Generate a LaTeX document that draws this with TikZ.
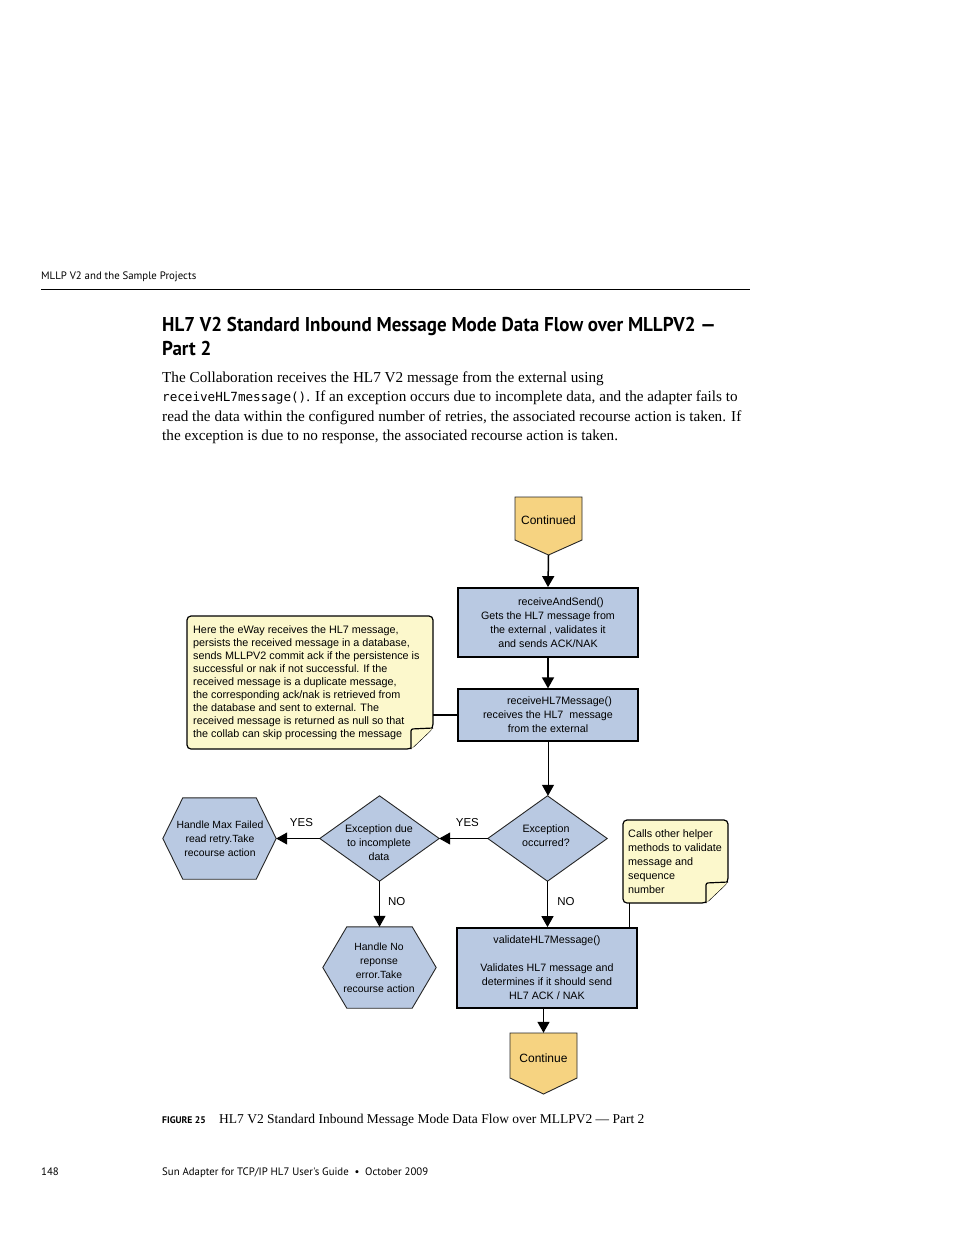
\documentclass[tikz,border=0pt]{standalone}
\usepackage{fontspec}
\setmainfont{Liberation Serif}
\setsansfont{Liberation Sans}
\setmonofont{DejaVu Sans Mono}
\newfontfamily\hsans{PT Sans}
\usetikzlibrary{arrows.meta,calc}
\definecolor{boxblue}{RGB}{185,201,226}
\definecolor{shapeyel}{RGB}{246,211,129}
\definecolor{notey}{RGB}{252,248,204}
\begin{document}
\begin{tikzpicture}[x=1pt,y=-1pt,
  txt/.style={inner sep=0pt, align=center, font=\fontsize{10.7}{14}\selectfont\sffamily},
  procbox/.style={txt, draw, fill=boxblue, line width=1.8pt, minimum width=180pt},
  shapeline/.style={draw=black!85, line width=0.9pt},
  notebox/.style={draw, fill=notey, line width=1.2pt, rounded corners=4pt},
  arr/.style={-{Triangle[length=11pt,width=12pt]}, line width=1.5pt},
  thinarr/.style={-{Triangle[length=11pt,width=12pt]}, line width=1pt},
  lbl/.style={inner sep=0pt, font=\fontsize{11.5}{14}\selectfont\sffamily},
  bodyline/.style={anchor=base west, inner sep=0pt, font=\fontsize{15.2}{19.5}\selectfont},
]
\useasboundingbox (0,0) rectangle (954,1235);
\fill[white] (0,0) rectangle (954,1235);

% running header
\node[anchor=base west, inner sep=0pt, font=\hsans\fontsize{10.8}{13}\selectfont] (hdr) at (41,279) {MLLP V2 and the Sample Projects};
\draw[line width=0.8pt] (41,289) -- (750,289);

% heading
\node[anchor=base west, inner sep=0pt, font=\hsans\bfseries\fontsize{20}{24}\selectfont] (h1) at (162,331) {\scalebox{0.95}[1]{HL7 V2 Standard Inbound Message Mode Data Flow over MLLPV2 —}};
\node[anchor=base west, inner sep=0pt, font=\hsans\bfseries\fontsize{20}{24}\selectfont] (h2) at (162,355) {\scalebox{0.95}[1]{Part 2}};

% body
\node[bodyline] (b1) at (162,382) {The Collaboration receives the HL7 V2 message from the external using};
\node[bodyline] (b2) at (162,401.5) {{\ttfamily\fontsize{12.6}{19.5}\selectfont receiveHL7message()}. If an exception occurs due to incomplete data, and the adapter fails to};
\node[bodyline] (b3) at (162,421) {read the data within the configured number of retries, the associated recourse action is taken. If};
\node[bodyline] (b4) at (162,440.5) {the exception is due to no response, the associated recourse action is taken.};

% ---- diagram ----
% Continued (top)
\node[txt, minimum width=67pt, minimum height=58pt] (cont1) at (548.5,526) {};
\draw[shapeline, fill=shapeyel] (515,497) -- (582,497) -- (582,540) -- (548.5,555) -- (515,540) -- cycle;
\node[txt, font=\fontsize{12}{14}\selectfont\sffamily] at (548.5,520) {Continued};

% receiveAndSend
\node[procbox, minimum height=69pt] (ras) at (548,622.5) {\hspace*{26pt}receiveAndSend()\\Gets the HL7 message from\\the external , validates it\\ and sends ACK/NAK};

% receiveHL7Message
\node[procbox, line width=1.2pt, minimum height=52pt] (rhm) at (548,715) {\hspace*{23pt}receiveHL7Message()\\receives the HL7\ \ message\\from the external};

% left note
\draw[notebox] (187,616) -- (433,616) -- (433,728) -- (411,749) -- (187,749) -- cycle;
\draw[line width=1.2pt, fill=notey, rounded corners=2pt] (411,749) -- (411,729) -- (433,728);
\node[inner sep=0pt, minimum width=246pt, minimum height=133pt] (noteL) at (310,682.5) {};
\node[anchor=north west, inner sep=0pt, align=left, font=\fontsize{10.8}{13}\selectfont\sffamily] at (193,625.5) {Here the eWay receives the HL7 message,\\persists the received message in a database,\\sends MLLPV2 commit ack if the persistence is\\successful or nak if not successful. If the\\received message is a duplicate message,\\the corresponding ack/nak is retrieved from\\the database and sent to external. The\\received message is returned as null so that\\the collab can skip processing the message};

% diamond 1: Exception occurred?
\node[txt, minimum width=119pt, minimum height=85pt] (d1) at (547.5,838.5) {};
\draw[shapeline, fill=boxblue] (d1.north) -- (d1.east) -- (d1.south) -- (d1.west) -- cycle;
\node[txt] at (546,836) {Exception\\occurred?};

% diamond 2: Exception due to incomplete data
\node[txt, minimum width=119pt, minimum height=85pt] (d2) at (379.5,838.5) {};
\draw[shapeline, fill=boxblue] (d2.north) -- (d2.east) -- (d2.south) -- (d2.west) -- cycle;
\node[txt] at (379,843) {Exception due\\to incomplete\\data};

% hexagon 1
\node[txt, minimum width=113pt, minimum height=81pt] (hx1) at (219.5,838.5) {};
\draw[shapeline, fill=boxblue] (hx1.west) -- ($(hx1.north west)+(20,0)$) -- ($(hx1.north east)+(-20,0)$) -- (hx1.east) -- ($(hx1.south east)+(-20,0)$) -- ($(hx1.south west)+(20,0)$) -- cycle;
\node[txt, font=\fontsize{10.4}{14}\selectfont\sffamily] at (220,838.5) {Handle Max Failed\\read retry.Take\\recourse action};

% hexagon 2
\node[txt, minimum width=113pt, minimum height=81pt] (hx2) at (379.5,967.5) {};
\draw[shapeline, fill=boxblue] (hx2.west) -- ($(hx2.north west)+(24,0)$) -- ($(hx2.north east)+(-24,0)$) -- (hx2.east) -- ($(hx2.south east)+(-24,0)$) -- ($(hx2.south west)+(24,0)$) -- cycle;
\node[txt, font=\fontsize{10.4}{14}\selectfont\sffamily] at (379,968) {Handle No\\reponse\\error.Take\\recourse action};

% validate box
\node[procbox, minimum height=80pt] (val) at (547,968) {validateHL7Message()\\[14pt]Validates HL7 message and\\determines if it should send\\HL7 ACK / NAK};

% right note
\draw[notebox] (623,820) -- (728,820) -- (728,882) -- (706,903) -- (623,903) -- cycle;
\draw[line width=1.2pt, fill=notey, rounded corners=2pt] (706,903) -- (706,883) -- (728,882);
\node[inner sep=0pt, minimum width=105pt, minimum height=83pt] (noteR) at (675.5,861.5) {};
\coordinate (noteRb) at (629,903);
\node[anchor=north west, inner sep=0pt, align=left, font=\fontsize{10.8}{14}\selectfont\sffamily] at (628,829.5) {Calls other helper\\methods to validate\\message and\\sequence\\number};

% Continue (bottom)
\node[txt, minimum width=67pt, minimum height=61pt] (cont2) at (543.5,1063.5) {};
\draw[shapeline, fill=shapeyel] (510,1033) -- (577,1033) -- (577,1078) -- (543.5,1094) -- (510,1078) -- cycle;
\node[txt, font=\fontsize{12}{14}\selectfont\sffamily] at (543.5,1058) {Continue};

% connectors
\draw[arr] (cont1.south) -- (ras.north);
\draw[arr] (ras.south) -- (rhm.north);
\draw[line width=1.5pt] (noteL.east |- rhm.west) -- (rhm.west);
\draw[thinarr] (rhm.south) -- (rhm.south |- d1.north);
\draw[thinarr] (d1.west) -- node[lbl, above=11pt, pos=0.42] {YES} (d2.east);
\draw[thinarr] (d2.west) -- node[lbl, above=11pt, pos=0.42] {YES} (hx1.east);
\draw[thinarr] (d2.south) -- node[lbl, right=8pt, pos=0.45] {NO} (hx2.north);
\draw[arr] (d1.south) -- node[lbl, right=9pt, pos=0.45] {NO} (d1.south |- val.north);
\draw[line width=1pt] (noteRb) -- (noteRb |- val.north);
\draw[arr] (val.south -| cont2.north) -- (cont2.north);

% caption
\node[anchor=base west, inner sep=0pt, font=\hsans\bfseries\fontsize{9.6}{11}\selectfont] (figlbl) at (162,1123) {FIGURE 25};
\node[anchor=base west, inner sep=0pt, font=\fontsize{13.5}{17}\selectfont] (figcap) at (219,1123) {HL7 V2 Standard Inbound Message Mode Data Flow over MLLPV2 --- Part 2};

% footer
\node[anchor=base west, inner sep=0pt, font=\hsans\fontsize{10.8}{13}\selectfont] (pg) at (41,1175) {148};
\node[anchor=base west, inner sep=0pt, font=\hsans\fontsize{10.8}{13}\selectfont] (ftr) at (162,1175) {Sun Adapter for TCP/IP HL7 User's Guide\ \ \textbullet\ \ October 2009};
\end{tikzpicture}
\end{document}
